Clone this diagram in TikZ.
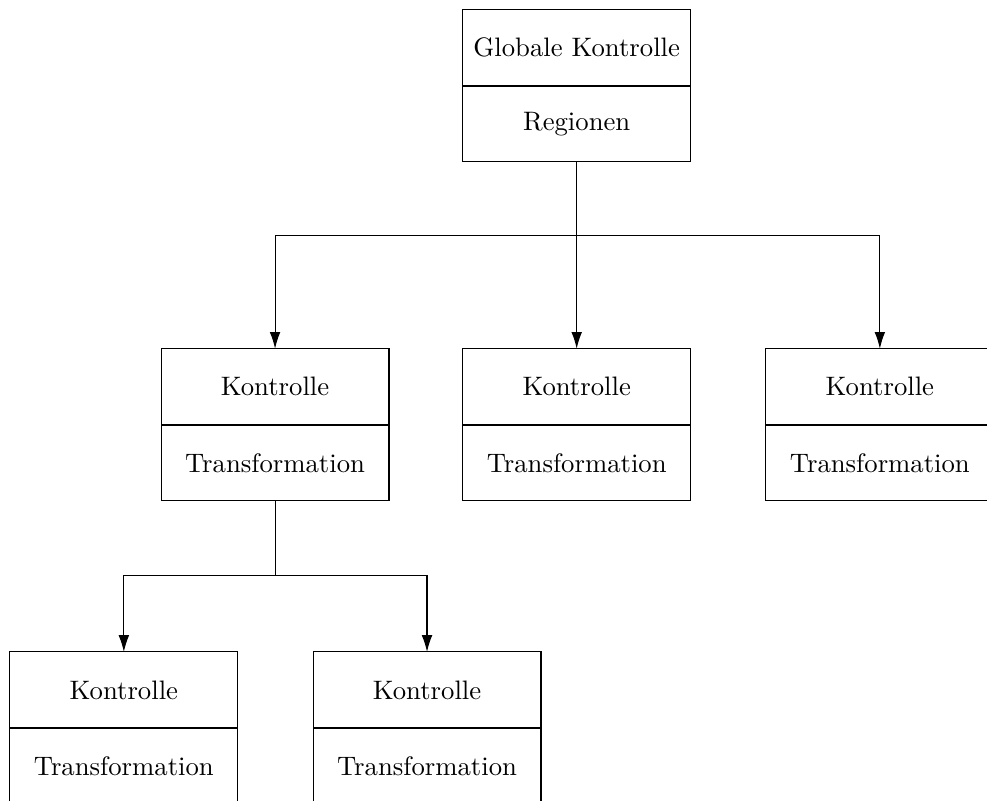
\documentclass[tikz,border=0pt]{standalone}
\usepackage{tikz}
\usetikzlibrary{arrows.meta,positioning,calc}

\tikzset{
 half/.style={draw,minimum width=3cm,minimum height=1cm,outer sep=0pt,inner sep=0pt},
 link/.style={-{Latex[length=2.2mm,width=1.4mm]}},
}

\begin{document}
\begin{tikzpicture}
 \useasboundingbox (0,0) rectangle (12.99,-10.53);
 % upper halves
 \node[half] (g) at (7.59,-0.63) {Globale Kontrolle};
 \node[half,below=0pt of g] (gr) {Regionen};
 \foreach \n/\x/\y in {k1/3.62/-5.09,k2/7.59/-5.09,k3/11.58/-5.09,k4/1.63/-9.08,k5/5.62/-9.08}
   {\node[half] (\n) at (\x,\y) {Kontrolle};
    \node[half,below=0pt of \n] (\n t) {Transformation};
    \draw[semithick] (\n.south west)--(\n.south east);}
 \draw[semithick] (g.south west)--(g.south east);
 % connectors
 \coordinate (b1) at ($(gr.south)+(0,-0.975)$);
 \coordinate (b2) at ($(k1t.south)+(0,-0.99)$);
 \draw (gr.south)--(b1);
 \draw[link] (gr.south)--(k2.north);
 \draw[link] (b1)-|(k1.north);
 \draw[link] (b1)-|(k3.north);
 \draw (k1t.south)--(b2);
 \draw[link] (b2)-|(k4.north);
 \draw[link] (b2)-|(k5.north);
\end{tikzpicture}
\end{document}
